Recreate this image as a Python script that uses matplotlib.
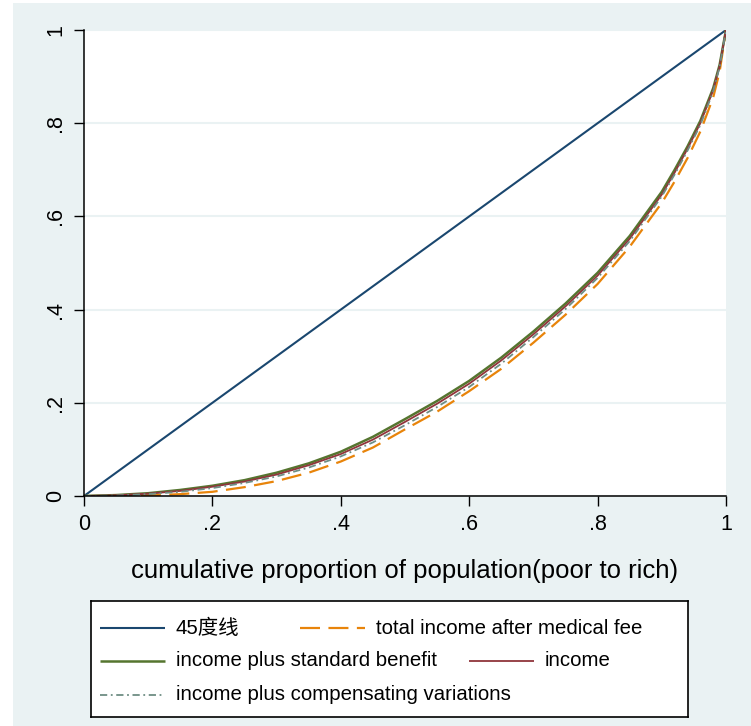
## Lorenz curves: income, income after medical fee, and income with benefits
import matplotlib.pyplot as plt
from matplotlib.lines import Line2D
from matplotlib.patches import Rectangle

plt.rcParams['font.family'] = ['Liberation Sans', 'Noto Sans CJK SC', 'DejaVu Sans']

## Data

pop_share = [0, .05, .1, .15, .2, .25, .3, .35, .4, .45, .5, .55, .6, .65, .7,
             .75, .8, .85, .9, .92, .94, .96, .98, .99, 1]
diagonal = [0, 1]
after_medical = [0, 0, .001, .004, .009, .019, .032, .05, .074, .104, .143, .181, .225,
                 .273, .329, .389, .455, .535, .629, .675, .725, .782, .855, .91, 1]
standard_benefit = [0, .002, .006, .013, .022, .034, .05, .07, .095, .127, .165, .204, .247,
                    .297, .353, .413, .479, .558, .653, .70, .75, .805, .875, .925, 1]
income = [0, .0015, .005, .011, .02, .031, .046, .066, .09, .121, .159, .198, .241,
          .291, .347, .407, .473, .552, .647, .694, .745, .80, .871, .922, 1]
comp_variation = [0, .001, .004, .009, .017, .028, .042, .061, .085, .115, .152, .191, .234,
                  .284, .341, .401, .468, .547, .643, .69, .741, .796, .868, .92, 1]

ticks = [0, .2, .4, .6, .8, 1]
tick_labels = ['0', '.2', '.4', '.6', '.8', '1']
legend_labels = ['45度线', 'total income after medical fee', 'income plus standard benefit',
                 'income', 'income plus compensating variations']

## Colours (Stata s2color)
bg = '#eaf2f3'
navy = '#1a476f'
dkorange = '#e8840a'
green = '#55752f'
maroon = '#90353b'
teal = '#6e8e84'

W, H = 751, 726
fig = plt.figure(figsize=(W / 100, H / 100), dpi=100, facecolor='white')
fig.patches.append(Rectangle((13 / W, 0), 1 - 13 / W, 1 - 3 / H, transform=fig.transFigure,
                             facecolor=bg, edgecolor='none', zorder=-10))

ax = fig.add_axes([84 / W, 1 - 496 / H, (726 - 84) / W, (496 - 30) / H])
ax.set_facecolor('white')

styles = [
    dict(color=navy, lw=1.5, ls='-'),
    dict(color=dkorange, lw=1.6, dashes=(9, 3.8)),
    dict(color=green, lw=1.8, ls='-'),
    dict(color=maroon, lw=1.3, ls='-'),
    dict(color=teal, lw=1.3, dashes=(4, 2, 1, 2)),
]
series = [(diagonal, diagonal), (pop_share, after_medical), (pop_share, standard_benefit),
          (pop_share, income), (pop_share, comp_variation)]
for (xs, ys), st in zip(series, styles):
    ax.plot(xs, ys, solid_capstyle='butt', dash_capstyle='butt', **st)

ax.set_xlim(0, 1)
ax.set_ylim(0, 1)
ax.set_xticks(ticks)
ax.set_xticklabels(tick_labels)
ax.set_yticks(ticks)
ax.set_yticklabels(tick_labels, rotation=90, va='center')
ax.tick_params(axis='both', length=7, width=1, color='black', labelsize=15.5)
ax.tick_params(axis='x', pad=6)
ax.tick_params(axis='y', pad=6)
ax.grid(axis='y', color=bg, lw=1.5)
ax.set_axisbelow(True)
for s in ['top', 'right']:
    ax.spines[s].set_visible(False)
for s in ['left', 'bottom']:
    ax.spines[s].set_linewidth(1.1)
ax.set_xlabel('cumulative proportion of population(poor to rich)', fontsize=18.5, labelpad=17)

## Legend box drawn by hand so that it follows the reference layout
lx0, lx1, ly0, ly1 = 91, 688, 601, 717
lax = fig.add_axes([lx0 / W, 1 - ly1 / H, (lx1 - lx0) / W, (ly1 - ly0) / H])
lax.set_xlim(lx0, lx1)
lax.set_ylim(ly1, ly0)
lax.set_xticks([])
lax.set_yticks([])
for s in lax.spines.values():
    s.set_linewidth(1.2)
    s.set_color('black')

rows = [628, 661, 695]
key_pos = [(100, rows[0]), (300, rows[0]), (100, rows[1]), (469, rows[1]), (100, rows[2])]
for (kx, ky), st, lab in zip(key_pos, styles, legend_labels):
    lax.add_line(Line2D([kx, kx + 65], [ky, ky], solid_capstyle='butt', dash_capstyle='butt', **st))
    lax.text(kx + 76, ky, lab, fontsize=14.7, va='center', ha='left')

fig.savefig('out.png', dpi=100, facecolor='white')
